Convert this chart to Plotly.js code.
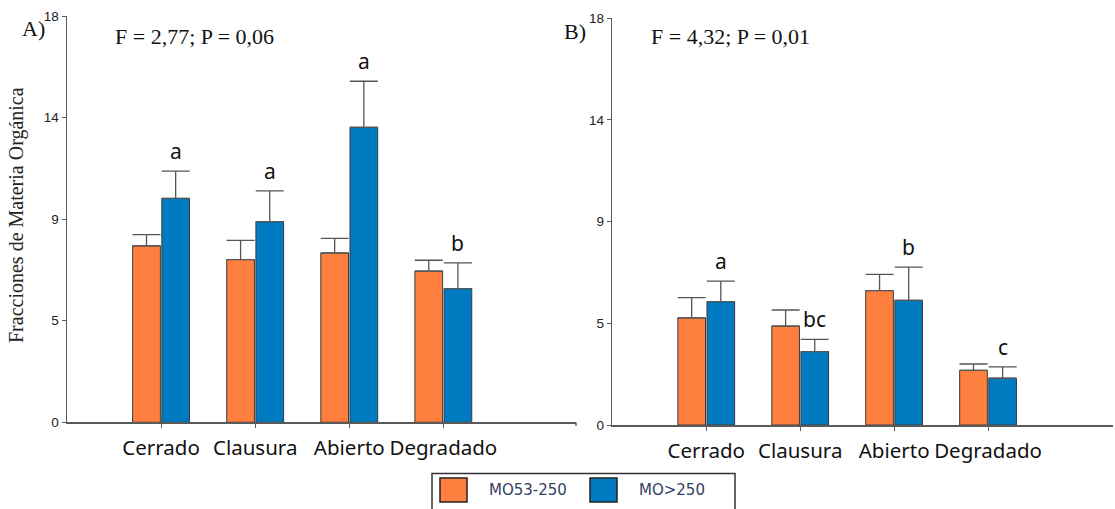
<!DOCTYPE html>
<html>
<head>
<meta charset="utf-8">
<script src="https://cdn.plot.ly/plotly-3.0.1.min.js"></script>
<style>html,body{margin:0;padding:0;background:#fff;}#chart{width:1115px;height:509px;}</style>
</head>
<body>
<div id="chart"></div>
<script>
// ---- data ----
const categories = ['Cerrado', 'Clausura', 'Abierto', 'Degradado'];
const seriesNames = ['MO53-250', 'MO>250'];
// Panel A
const a_MO53 = [7.82, 7.21, 7.50, 6.70];
const a_MO53_err = [0.49, 0.85, 0.65, 0.48];
const a_MO250 = [9.92, 8.89, 13.07, 5.92];
const a_MO250_err = [1.21, 1.36, 2.04, 1.14];
const a_letters = ['a', 'a', 'a', 'b'];
const a_stat = 'F = 2,77; P = 0,06';
// Panel B
const b_MO53 = [4.74, 4.38, 5.95, 2.42];
const b_MO53_err = [0.90, 0.71, 0.72, 0.28];
const b_MO250 = [5.46, 3.25, 5.52, 2.07];
const b_MO250_err = [0.91, 0.54, 1.47, 0.50];
const b_letters = ['a', 'bc', 'b', 'c'];
const b_stat = 'F = 4,32; P = 0,01';
// y ticks
const yTickVals = [0, 4.5, 9, 13.5, 18];
const yTickText = ['0', '5', '9', '14', '18'];
const yTitle = 'Fracciones de Materia Orgánica';

// ---- style ----
const W = 1115, H = 509;
const ORANGE = '#FF7F3F', BLUE = '#007BC2';
const barLine = {color: '#3a3a3a', width: 1};
const errStyle = {type: 'data', symmetric: false, color: '#555555', thickness: 1.3, width: 14};

function barTrace(name, y, err, color, xa, ya) {
  return {
    type: 'bar', name: name, x: categories, y: y,
    marker: {color: color, line: barLine},
    error_y: Object.assign({array: err, arrayminus: y.map(() => 0)}, errStyle),
    xaxis: xa, yaxis: ya, showlegend: false, hoverinfo: 'x+y'
  };
}

const data = [
  barTrace(seriesNames[0], a_MO53, a_MO53_err, ORANGE, 'x', 'y'),
  barTrace(seriesNames[1], a_MO250, a_MO250_err, BLUE, 'x', 'y'),
  barTrace(seriesNames[0], b_MO53, b_MO53_err, ORANGE, 'x2', 'y2'),
  barTrace(seriesNames[1], b_MO250, b_MO250_err, BLUE, 'x2', 'y2')
];

const BARGAP = 0.38;
const blueOffset = (1 - BARGAP) / 4;

const annotations = [];
function letters(arr, vals, errs, xr, yr) {
  arr.forEach((t, i) => annotations.push({
    text: t, x: i + blueOffset, y: vals[i] + errs[i], xref: xr, yref: yr,
    xanchor: 'center', yanchor: 'bottom', yshift: 4, showarrow: false,
    font: {family: 'Noto Sans', size: 21, color: '#111'}
  }));
}
letters(a_letters, a_MO250, a_MO250_err, 'x', 'y');
letters(b_letters, b_MO250, b_MO250_err, 'x2', 'y2');

function paperText(text, px, py, size, family) {
  annotations.push({text: text, x: px / W, y: 1 - py / H, xref: 'paper', yref: 'paper',
    xanchor: 'left', yanchor: 'middle', showarrow: false,
    font: {family: family, size: size, color: '#111'}});
}
paperText('A)', 20, 29, 22, 'Liberation Serif');
paperText(a_stat, 113, 36, 22, 'Liberation Serif');
paperText('B)', 562, 31, 22, 'Liberation Serif');
paperText(b_stat, 649, 36, 22, 'Liberation Serif');

// y-axis title (rotated)
annotations.push({text: yTitle, x: 17 / W, y: 1 - 215 / H, xref: 'paper', yref: 'paper',
  textangle: -90, xanchor: 'center', yanchor: 'middle', showarrow: false,
  font: {family: 'Liberation Serif', size: 20, color: '#222'}});

// custom legend
const legendItems = [
  {name: seriesNames[0], color: ORANGE, sx: 440, tx: 487},
  {name: seriesNames[1], color: BLUE, sx: 590, tx: 637}
];
const shapes = [{type: 'rect', xref: 'paper', yref: 'paper',
  x0: 432 / W, x1: 735 / W, y0: 1 - 515 / H, y1: 1 - 473.5 / H,
  line: {color: '#333', width: 1.5}, fillcolor: 'rgba(0,0,0,0)'}];
legendItems.forEach(it => {
  shapes.push({type: 'rect', xref: 'paper', yref: 'paper',
    x0: it.sx / W, x1: (it.sx + 27) / W, y0: 1 - 502 / H, y1: 1 - 478 / H,
    line: {color: '#222', width: 1.5}, fillcolor: it.color});
  annotations.push({text: it.name, x: it.tx / W, y: 1 - 490 / H, xref: 'paper', yref: 'paper',
    xanchor: 'left', yanchor: 'middle', showarrow: false,
    font: {family: 'DejaVu Sans', size: 15, color: '#34405f'}});
});
// small end tick of the left x axis
shapes.push({type: 'line', xref: 'paper', yref: 'paper',
  x0: 576 / W, x1: 576 / W, y0: 1 - 422.3 / H, y1: 1 - 426 / H,
  line: {color: '#555', width: 1.3}});

const xCommon = {
  type: 'category', showline: true, linecolor: '#5a5a5a', linewidth: 1.5,
  ticks: 'outside', ticklen: 4, tickcolor: '#5a5a5a', showgrid: false, zeroline: false,
  ticklabelstandoff: 3,
  tickfont: {family: 'Noto Sans', size: 20.5, color: '#111'}, fixedrange: true
};
const yCommon = {
  range: [0, 18], tickvals: yTickVals, ticktext: yTickText,
  showline: true, linecolor: '#5a5a5a', linewidth: 1.5,
  ticks: 'outside', ticklen: 4, tickcolor: '#5a5a5a', showgrid: false, zeroline: false,
  tickfont: {family: 'Liberation Sans', size: 13.5, color: '#222'}, fixedrange: true
};

const layout = {
  width: W, height: H,
  margin: {l: 0, r: 0, t: 0, b: 0},
  paper_bgcolor: '#fff', plot_bgcolor: '#fff',
  barmode: 'group', bargap: BARGAP, bargroupgap: 0.05,
  showlegend: false,
  xaxis: Object.assign({}, xCommon, {domain: [67 / W, 576 / W], range: [-1.0, 4.41], anchor: 'y'}),
  yaxis: Object.assign({}, yCommon, {domain: [1 - 422.3 / H, 1 - 16 / H], anchor: 'x'}),
  xaxis2: Object.assign({}, xCommon, {domain: [612.3 / W, 1113 / W], range: [-1.0, 4.33], anchor: 'y2'}),
  yaxis2: Object.assign({}, yCommon, {domain: [1 - 425 / H, 1 - 18.3 / H], anchor: 'x2'}),
  annotations: annotations,
  shapes: shapes
};

Plotly.newPlot('chart', data, layout, {displayModeBar: false, staticPlot: true});
</script>
</body>
</html>
